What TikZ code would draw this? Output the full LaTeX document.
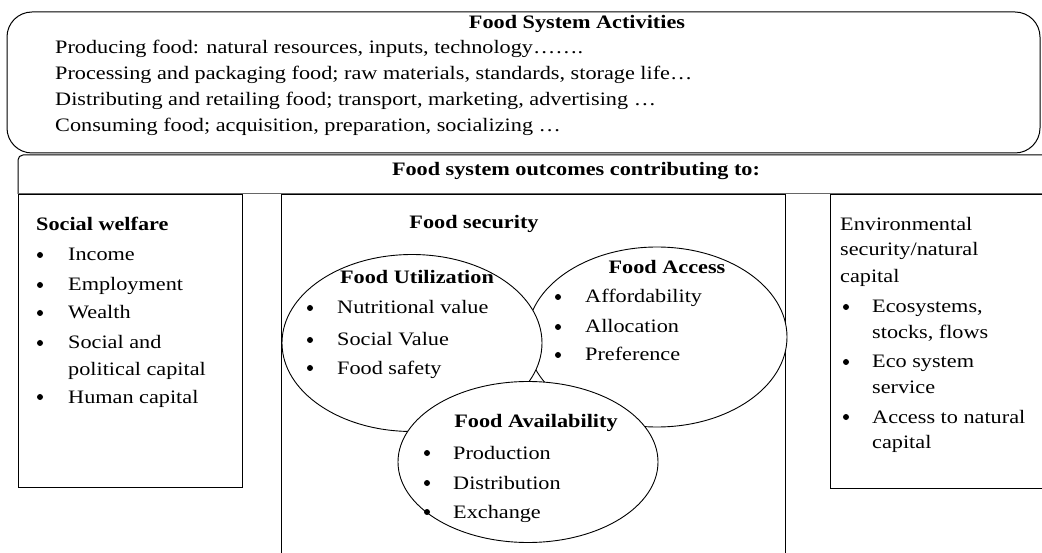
\documentclass[tikz,border=0pt]{standalone}
\usepackage{fontspec}
\setmainfont{Liberation Serif}[FakeStretch=1.17]
\usetikzlibrary{shapes.geometric}

\tikzset{
  box/.style={draw, line width=1pt},
  zone/.style={draw, ellipse, line width=0.9pt, fill=white, inner sep=0pt},
  txt/.style={anchor=base west, inner sep=0pt, font=\fontsize{19}{20}\selectfont},
  ttl/.style={anchor=base, inner sep=0pt, font=\fontsize{19}{20}\selectfont\bfseries},
  dot/.style={circle, fill, inner sep=0pt, minimum size=6pt},
}

\begin{document}
\begin{tikzpicture}[x=1pt,y=-1pt]
\useasboundingbox (0,0) rectangle (1042,553);

% Activities
\draw[box, rounded corners=25pt] (7,12) rectangle (1040,153);
\node[ttl] (act) at (577,29) {Food System Activities};
\foreach \itm/\y [count=\i] in {Producing food: natural resources{,} inputs{,} technology…….\ /54,
    Processing and packaging food; raw materials{,} standards{,} storage life…/80,
    Distributing and retailing food; transport{,} marketing{,} advertising …/106,
    Consuming food; acquisition{,} preparation{,} socializing …/132}
  \node[txt] (act\i) at (55,\y) {\itm};

% Outcomes bar
\draw[box, rounded corners=5pt] (18,194) -- (18,155) -- (1050,155);
\draw[box, draw=black!60] (18,194) -- (1050,194);
\node[ttl] (out) at (576,176) {Food system outcomes contributing to:};

% Three boxes
\draw[box] (18,195) rectangle (242,487);
\draw[box] (281,195) rectangle (785,560);
\draw[box] (830,195) rectangle (1050,488);

% Social welfare
\node[txt, font=\fontsize{19}{20}\selectfont\bfseries] (sw) at (36,231) {Social welfare};
\foreach \y [count=\i] in {261,291,319,349,403}
  \node[dot] (swb\i) at (40,\y-6) {};
\foreach \itm/\y [count=\i] in {Income/261, Employment/291, Wealth/319,
    Social and/349, political capital/376, Human capital/403}
  \node[txt] (sw\i) at (68,\y) {\itm};

% Food security
\node[ttl] (fs) at (474,229) {Food security};
\node[zone, minimum width=260pt, minimum height=180pt] (acc) at (657,337) {};
\node[zone, minimum width=260pt, minimum height=177pt] (util) at (412,343) {};
\node[zone, minimum width=260pt, minimum height=161pt] (avail) at (528,462) {};

\node[ttl] (utilt) at (417,284) {Food Utilization};
\foreach \itm/\y [count=\i] in {Nutritional value/314, Social Value/346, Food safety/374} {
  \node[dot] (ub\i) at (310,\y-6) {};
  \node[txt] (u\i) at (337,\y) {\itm};
}
\node[ttl] (acct) at (667,274) {Food Access};
\foreach \itm/\y [count=\i] in {Affordability/303, Allocation/333, Preference/361} {
  \node[dot] (ab\i) at (558,\y-6) {};
  \node[txt] (a\i) at (585,\y) {\itm};
}
\node[ttl] (availt) at (536,428) {Food Availability};
\foreach \itm/\y [count=\i] in {Production/459, Distribution/489, Exchange/518} {
  \node[dot] (vb\i) at (427,\y-6) {};
  \node[txt] (v\i) at (453,\y) {\itm};
}

% Environment
\node[txt] (env1) at (840,231) {Environmental};
\node[txt] (env2) at (840,256) {security/natural};
\node[txt] (env3) at (840,283) {capital};
\foreach \y [count=\i] in {313,368,423}
  \node[dot] (eb\i) at (846,\y-6) {};
\foreach \itm/\y [count=\i] in {{Ecosystems,}/313, {stocks, flows}/339, Eco system/368,
    service/393, Access to natural/423, capital/448}
  \node[txt] (e\i) at (872,\y) {\itm};
\end{tikzpicture}
\end{document}
